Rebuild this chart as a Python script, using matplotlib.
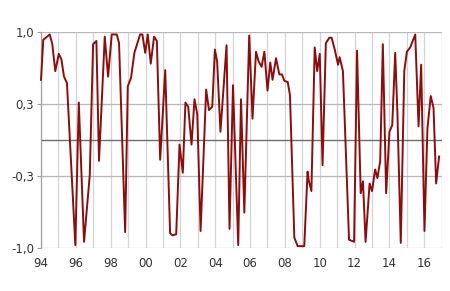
import numpy as np
import matplotlib
matplotlib.use("Agg")
import matplotlib.pyplot as plt

# Vertices of the series (decimal year, value)
years = [1994.00, 1994.13, 1994.50, 1994.65, 1994.82, 1995.02, 1995.17, 1995.32, 1995.49,
         1995.97, 1996.17, 1996.47, 1996.80, 1996.99, 1997.18, 1997.33, 1997.66, 1997.85,
         1998.06, 1998.35, 1998.48, 1998.83, 1998.98, 1999.17, 1999.36, 1999.69, 1999.82,
         1999.98, 2000.13, 2000.30, 2000.49, 2000.65, 2000.84, 2001.13, 2001.41, 2001.55,
         2001.76, 2001.95, 2002.14, 2002.29, 2002.45, 2002.64, 2002.81, 2002.97, 2003.16,
         2003.48, 2003.64, 2003.83, 2003.98, 2004.11, 2004.30, 2004.65, 2004.82, 2005.02,
         2005.32, 2005.48, 2005.67, 2005.95, 2006.14, 2006.34, 2006.49, 2006.66, 2006.82,
         2007.00, 2007.16, 2007.29, 2007.49, 2007.68, 2007.83, 2007.97, 2008.16, 2008.29,
         2008.54, 2008.73, 2009.11, 2009.30, 2009.38, 2009.52, 2009.71, 2009.85, 2010.00,
         2010.16, 2010.35, 2010.55, 2010.68, 2010.86, 2011.05, 2011.14, 2011.33, 2011.68,
         2011.97, 2012.14, 2012.35, 2012.48, 2012.63, 2012.86, 2013.00, 2013.18, 2013.31,
         2013.47, 2013.62, 2013.81, 2014.00, 2014.16, 2014.33, 2014.46, 2014.65, 2014.85,
         2015.00, 2015.19, 2015.48, 2015.67, 2015.82, 2016.01, 2016.18, 2016.37, 2016.53,
         2016.68, 2016.85]
values = [0.56, 0.93, 0.98, 0.89, 0.64, 0.80, 0.75, 0.59, 0.53,
          -0.97, 0.35, -0.94, -0.32, 0.89, 0.92, -0.19, 0.96, 0.59,
          0.98, 0.98, 0.90, -0.85, 0.50, 0.58, 0.81, 0.98, 0.98,
          0.81, 0.98, 0.71, 0.96, 0.92, -0.18, 0.65, -0.86, -0.88,
          -0.87, -0.04, -0.30, 0.35, 0.31, -0.04, 0.38, 0.24, -0.84,
          0.47, 0.28, 0.31, 0.84, 0.73, 0.08, 0.88, -0.82, 0.51,
          -0.97, 0.38, -0.67, 0.97, 0.20, 0.82, 0.73, 0.68, 0.82,
          0.46, 0.72, 0.56, 0.76, 0.61, 0.61, 0.55, 0.54, 0.42,
          -0.90, -0.98, -0.98, -0.29, -0.38, -0.47, 0.86, 0.64, 0.80,
          -0.23, 0.90, 0.95, 0.95, 0.84, 0.70, 0.77, 0.64, -0.92,
          -0.94, 0.83, -0.49, -0.38, -0.94, -0.40, -0.47, -0.27, -0.35,
          -0.19, 0.89, -0.49, 0.08, 0.14, 0.81, 0.24, -0.95, 0.64,
          0.82, 0.86, 0.98, 0.13, 0.70, -0.84, 0.11, 0.41, 0.30,
          -0.40, -0.15]

year_ticks = np.arange(1994, 2018)
label_years = np.arange(1994, 2018, 2)
y_ticks = [-1.0, -1/3, 1/3, 1.0]
y_labels = ["-1,0", "-0,3", "0,3", "1,0"]

fig = plt.figure(figsize=(4.5, 2.91), dpi=100)
ax = fig.add_axes([0.0911, 0.1467, 0.8905, 0.7423])

# light year grid
for yr in year_ticks:
    ax.axvline(yr, color="#d4d4d4", lw=0.9, zorder=0)
for yv in y_ticks:
    ax.axhline(yv, color="#b8b8b8", lw=0.9, zorder=0)
ax.axhline(0, color="#6e6e6e", lw=1.0, zorder=1)

ax.plot(years, values, color="#8b0d0d", lw=1.4, zorder=3, clip_on=False)

ax.set_xlim(1994, 2017)
ax.set_ylim(-1.0, 1.0)
ax.set_xticks(label_years)
ax.set_xticklabels([f"{y % 100:02d}" for y in label_years])
ax.set_yticks(y_ticks)
ax.set_yticklabels(y_labels)
ax.tick_params(axis="x", length=0, pad=6, labelsize=8.5, colors="#333333")
ax.tick_params(axis="y", length=3, width=0.8, color="#a0a0a0", pad=2,
               labelsize=8.5, labelcolor="#333333")

for side in ["top", "right", "bottom"]:
    ax.spines[side].set_visible(False)
ax.spines["left"].set_color("#a0a0a0")
ax.spines["left"].set_linewidth(0.9)

fig.savefig("out.png", dpi=100)
